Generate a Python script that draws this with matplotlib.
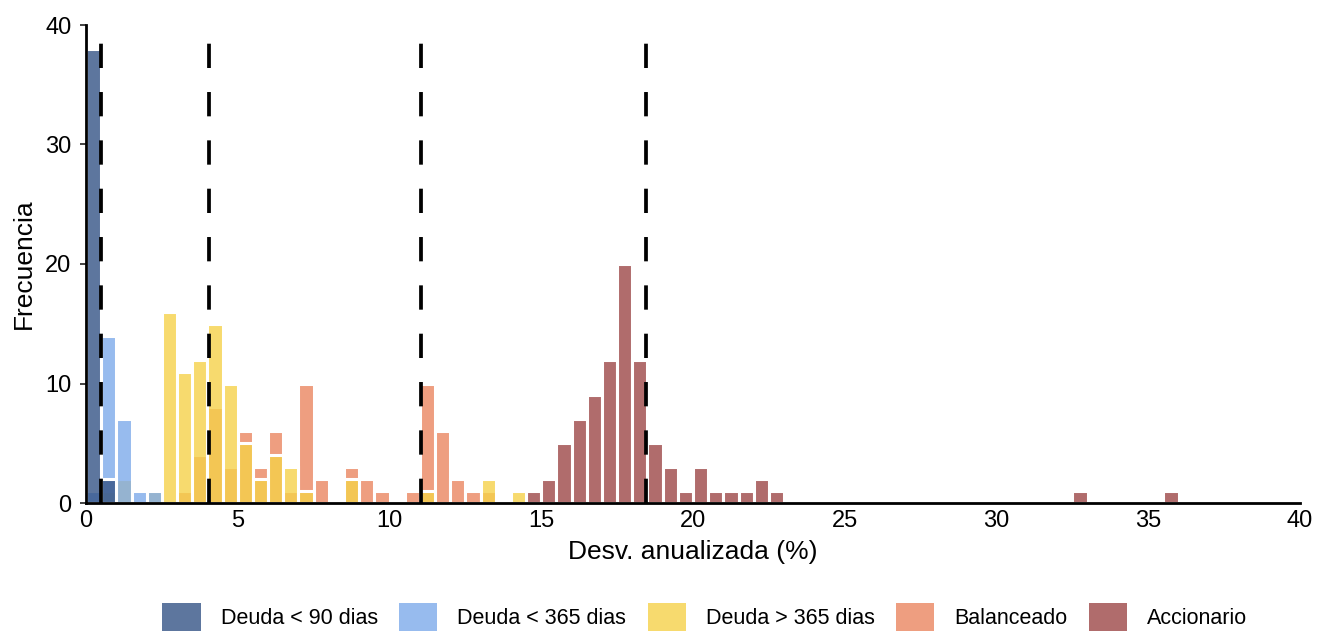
import matplotlib
matplotlib.use("Agg")
import matplotlib.pyplot as plt
from matplotlib.patches import Patch
from matplotlib.colors import to_rgba

plt.rcParams['font.family'] = ['Liberation Sans', 'DejaVu Sans']

# ---- data (histogram, bin width 0.5, bins given by left edge) ----
bin_width = 0.5
series_names = ["Deuda < 90 dias", "Deuda < 365 dias", "Deuda > 365 dias", "Balanceado", "Accionario"]

d90_bins = [0.0, 0.5]
d90_counts = [38, 2]

d365_bins = [0.0, 0.5, 1.0, 1.5, 2.0]
d365_counts = [1, 14, 7, 1, 1]

dlp_bins = [0.5, 1.0, 2.0, 2.5, 3.0, 3.5, 4.0, 4.5, 5.0, 5.5, 6.0, 6.5, 7.0, 8.5, 11.0, 13.0, 14.0]
dlp_counts = [1, 2, 1, 16, 11, 12, 15, 10, 5, 2, 4, 3, 1, 2, 1, 2, 1]

bal_bins = [3.0, 3.5, 4.0, 4.5, 5.0, 5.5, 6.0, 6.5, 7.0, 7.5, 8.5, 9.0, 9.5, 10.5, 11.0, 11.5, 12.0, 12.5, 13.0]
bal_counts = [1, 4, 8, 3, 6, 3, 6, 1, 10, 2, 3, 2, 1, 1, 10, 6, 2, 1, 1]

acc_bins = [14.5, 15.0, 15.5, 16.0, 16.5, 17.0, 17.5, 18.0, 18.5, 19.0, 19.5, 20.0, 20.5, 21.0, 21.5, 22.0, 22.5, 32.5, 35.5]
acc_counts = [1, 2, 5, 7, 9, 12, 20, 12, 5, 3, 1, 3, 1, 1, 1, 2, 1, 1, 1]

# reference lines (annualised deviation markers)
vline_x = [0.5, 4.05, 11.05, 18.45]

x_ticks = [0, 5, 10, 15, 20, 25, 30, 35, 40]
y_ticks = [0, 10, 20, 30, 40]

# ---- style ----
alpha = 0.8
base_colors = ["#355486", "#7DAAEA", "#F5D14A", "#EA8660", "#9C4747"]
face = [to_rgba(c, alpha) for c in base_colors]

fig = plt.figure(figsize=(13.2, 6.31), dpi=100)
ax = fig.add_axes([86/1320, 1-503/631, (1300-86)/1320, (503-25)/631])

data = [(d90_bins, d90_counts), (d365_bins, d365_counts), (dlp_bins, dlp_counts),
        (bal_bins, bal_counts), (acc_bins, acc_counts)]

# drawn in reverse order so that earlier series sit on top
for i in reversed(range(len(data))):
    b, c = data[i]
    ax.bar(b, c, width=bin_width, align='edge', color=face[i],
           edgecolor='white', linewidth=2.2, zorder=2 + (len(data) - i) * 0.1)

lw_v = 2.7
for xv in vline_x:
    ax.axvline(xv, ymin=0, ymax=1, color='black', linewidth=lw_v,
               linestyle=(0, (17.5 / lw_v, 17.3 / lw_v)), dash_capstyle='butt', zorder=5)

ax.set_xlim(0, 40)
ax.set_ylim(0, 40)
ax.set_xticks(x_ticks)
ax.set_yticks(y_ticks)
ax.tick_params(axis='x', length=0, labelsize=17, pad=5, colors='black')
ax.tick_params(axis='y', length=4.5, width=1.3, color='#333333', labelsize=17, pad=6, labelcolor='black')
for s in ['top', 'right']:
    ax.spines[s].set_visible(False)
for s in ['left', 'bottom']:
    ax.spines[s].set_linewidth(2)
    ax.spines[s].set_color('black')
    ax.spines[s].set_zorder(6)

ax.set_xlabel("Desv. anualizada (%)", fontsize=19, labelpad=6)
ax.set_ylabel("Frecuencia", fontsize=19, labelpad=7)

handles = [Patch(facecolor=face[i], edgecolor='none', label=series_names[i]) for i in range(len(series_names))]
fig.legend(handles=handles, loc='center', bbox_to_anchor=(0.534, 0.022), ncol=5,
           frameon=False, fontsize=15.5, handlelength=1.77, handleheight=1.65,
           handletextpad=0.93, columnspacing=1.0, borderpad=0)

fig.savefig("out.png", dpi=100)
